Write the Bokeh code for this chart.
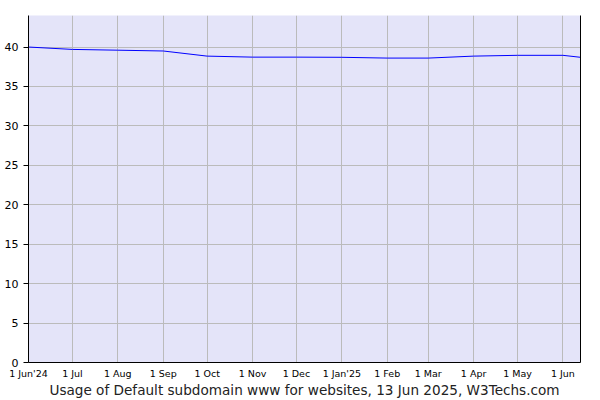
import pandas as pd
from bokeh.plotting import figure
from bokeh.models import FixedTicker, Range1d, LinearAxis, ColumnDataSource
from bokeh.embed import file_html
from bokeh.resources import INLINE

# data
dates = ["2024-06-01", "2024-07-01", "2024-08-01", "2024-09-01", "2024-10-01",
         "2024-11-01", "2024-12-01", "2025-01-01", "2025-02-01", "2025-03-01",
         "2025-04-01", "2025-05-01", "2025-06-01", "2025-06-13"]
values = [40.0, 39.7, 39.6, 39.5, 38.85, 38.72, 38.72, 38.7, 38.6, 38.6,
          38.85, 38.95, 38.95, 38.7]

tick_dates = ["2024-06-01", "2024-07-01", "2024-08-01", "2024-09-01", "2024-10-01",
              "2024-11-01", "2024-12-01", "2025-01-01", "2025-02-01", "2025-03-01",
              "2025-04-01", "2025-05-01", "2025-06-01"]
tick_labels = ["1 Jun'24", "1 Jul", "1 Aug", "1 Sep", "1 Oct", "1 Nov", "1 Dec",
               "1 Jan'25", "1 Feb", "1 Mar", "1 Apr", "1 May", "1 Jun"]
y_ticks = [0, 5, 10, 15, 20, 25, 30, 35, 40]
x_start, x_end = "2024-06-01", "2025-06-13"
y_max = 44
caption = "Usage of Default subdomain www for websites, 13 Jun 2025, W3Techs.com"


def ms(s):
    return pd.Timestamp(s).value / 1e6


src = ColumnDataSource(dict(x=pd.to_datetime(dates), y=values))

p = figure(width=600, height=400, x_axis_type="datetime",
           output_backend="svg", toolbar_location=None,
           min_border_left=28, min_border_right=20, min_border_top=15,
           min_border_bottom=38)
p.x_range = Range1d(ms(x_start), ms(x_end))
p.y_range = Range1d(0, y_max)
p.background_fill_color = "#e4e4f9"
p.border_fill_color = "white"
p.outline_line_color = None

p.line("x", "y", source=src, line_color="#0000ff", line_width=1)

tick_ms = [ms(d) for d in tick_dates]
xa = p.xaxis[0]
xa.ticker = FixedTicker(ticks=tick_ms)
xa.major_label_overrides = {t: l for t, l in zip(tick_ms, tick_labels)}
xa.major_tick_out = 0
xa.major_tick_in = 0
xa.minor_tick_out = 0
xa.minor_tick_in = 0
xa.major_label_text_font = "DejaVu Sans"
xa.major_label_text_font_size = "9.5px"
xa.major_label_text_color = "#000000"
xa.major_label_standoff = 5
xa.axis_line_color = "black"
xa.axis_label = caption
xa.axis_label_text_font = "DejaVu Sans"
xa.axis_label_text_font_size = "13.6px"
xa.axis_label_text_font_style = "normal"
xa.axis_label_text_color = "#222222"
xa.axis_label_standoff = 0

ya = p.yaxis[0]
ya.ticker = FixedTicker(ticks=y_ticks)
ya.major_tick_out = 5
ya.major_tick_in = 0
ya.minor_tick_out = 0
ya.minor_tick_in = 0
ya.major_label_text_font = "DejaVu Sans"
ya.major_label_text_font_size = "11px"
ya.major_label_text_color = "#000000"
ya.major_label_standoff = 5
ya.axis_line_color = "black"

right = LinearAxis(ticker=FixedTicker(ticks=[]), major_label_text_font_size="0px",
                   major_tick_out=0, major_tick_in=0, minor_tick_out=0, minor_tick_in=0,
                   axis_line_color="black")
p.add_layout(right, "right")

p.xgrid.ticker = FixedTicker(ticks=tick_ms)
p.xgrid.grid_line_color = "#bbbbbb"
p.ygrid.ticker = FixedTicker(ticks=y_ticks)
p.ygrid.grid_line_color = "#bbbbbb"

open("out.html", "w").write(file_html(p, INLINE))
